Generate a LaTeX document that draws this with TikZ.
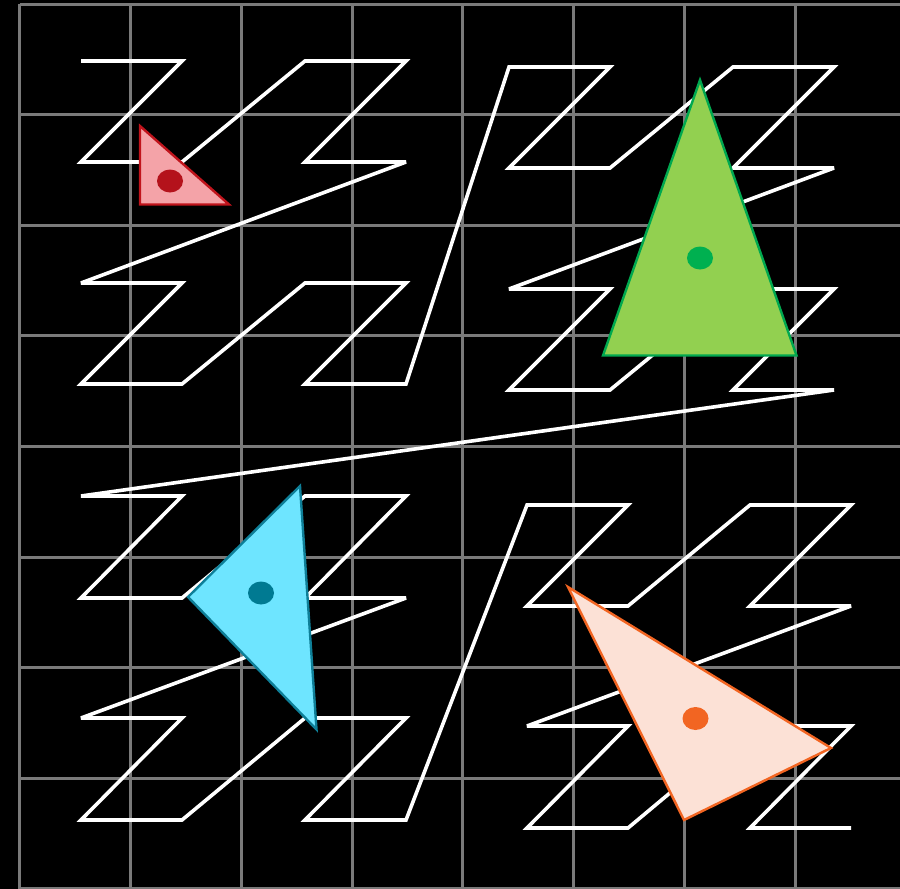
\documentclass[tikz,border=0pt]{standalone}
\usetikzlibrary{shapes.geometric}
\definecolor{gridgrey}{HTML}{7A7A7A}
\definecolor{redfill}{HTML}{F4A3A8}
\definecolor{redline}{HTML}{C0141C}
\definecolor{reddot}{HTML}{B4121B}
\definecolor{greenfill}{HTML}{92D050}
\definecolor{greenline}{HTML}{00A84F}
\definecolor{greendot}{HTML}{00B050}
\definecolor{cyanfill}{HTML}{6EE5FF}
\definecolor{cyanline}{HTML}{0E7F98}
\definecolor{cyandot}{HTML}{007A92}
\definecolor{orangefill}{HTML}{FCE1D6}
\definecolor{orangeline}{HTML}{F26522}
\definecolor{orangedot}{HTML}{F26522}
\tikzset{
  gridline/.style={draw=gridgrey, line width=3pt},
  zcurve/.style={draw=white, line width=3.6pt, line join=miter, miter limit=3},
  tri/.style={line width=2.4pt, line join=miter},
  dot/.style={ellipse, minimum width=26pt, minimum height=23pt, inner sep=0pt, draw=none}
}
\begin{document}
\begin{tikzpicture}[x=1pt,y=-1pt]
\useasboundingbox (0,0) rectangle (900,889);
\fill[black] (0,0) rectangle (900,889);
\begin{scope}
\clip (0,0) rectangle (900,889);
\foreach \i in {0,...,8} {
  \draw[gridline] ({19.7+110.8*\i},4) -- ({19.7+110.8*\i},895);
  \draw[gridline] (19.7,{4+110.6*\i}) -- (910,{4+110.6*\i});
}
\end{scope}
% Z-order curve
\draw[zcurve]
 (81,61)--(182,61)--(81,162)--(182,162)--(305,61)--(406,61)--(305,162)--(406,162)
 --(81,283)--(182,283)--(81,384)--(182,384)--(305,283)--(406,283)--(305,384)--(406,384)
 --(509,67)--(610,67)--(509,168)--(610,168)--(733,67)--(834,67)--(733,168)--(834,168)
 --(509,289)--(610,289)--(509,390)--(610,390)--(733,289)--(834,289)--(733,390)--(834,390)
 --(81,496)--(182,496)--(81,598)--(182,598)--(305,496)--(406,496)--(305,598)--(406,598)
 --(81,718)--(182,718)--(81,820)--(182,820)--(305,718)--(406,718)--(305,820)--(406,820)
 --(527,505)--(628,505)--(527,606)--(628,606)--(750,505)--(851,505)--(750,606)--(851,606)
 --(527,726)--(628,726)--(527,828)--(628,828)--(750,726)--(851,726)--(750,828)--(851,828);
% triangles
\draw[tri, fill=redfill, draw=redline] (140,126) -- (140,204.5) -- (229,204.5) -- cycle;
\node[dot, fill=reddot] (rdot) at (170,181) {};
\draw[tri, fill=greenfill, draw=greenline] (700,80) -- (603,355.5) -- (796.5,355.5) -- cycle;
\node[dot, fill=greendot] (gdot) at (700,258) {};
\draw[tri, fill=cyanfill, draw=cyanline] (300,486) -- (188,597) -- (316.5,729.5) -- cycle;
\node[dot, fill=cyandot] (cdot) at (261,593) {};
\draw[tri, fill=orangefill, draw=orangeline] (568,587) -- (684,820) -- (831,748) -- cycle;
\node[dot, fill=orangedot] (odot) at (695.5,718.5) {};
\end{tikzpicture}
\end{document}
